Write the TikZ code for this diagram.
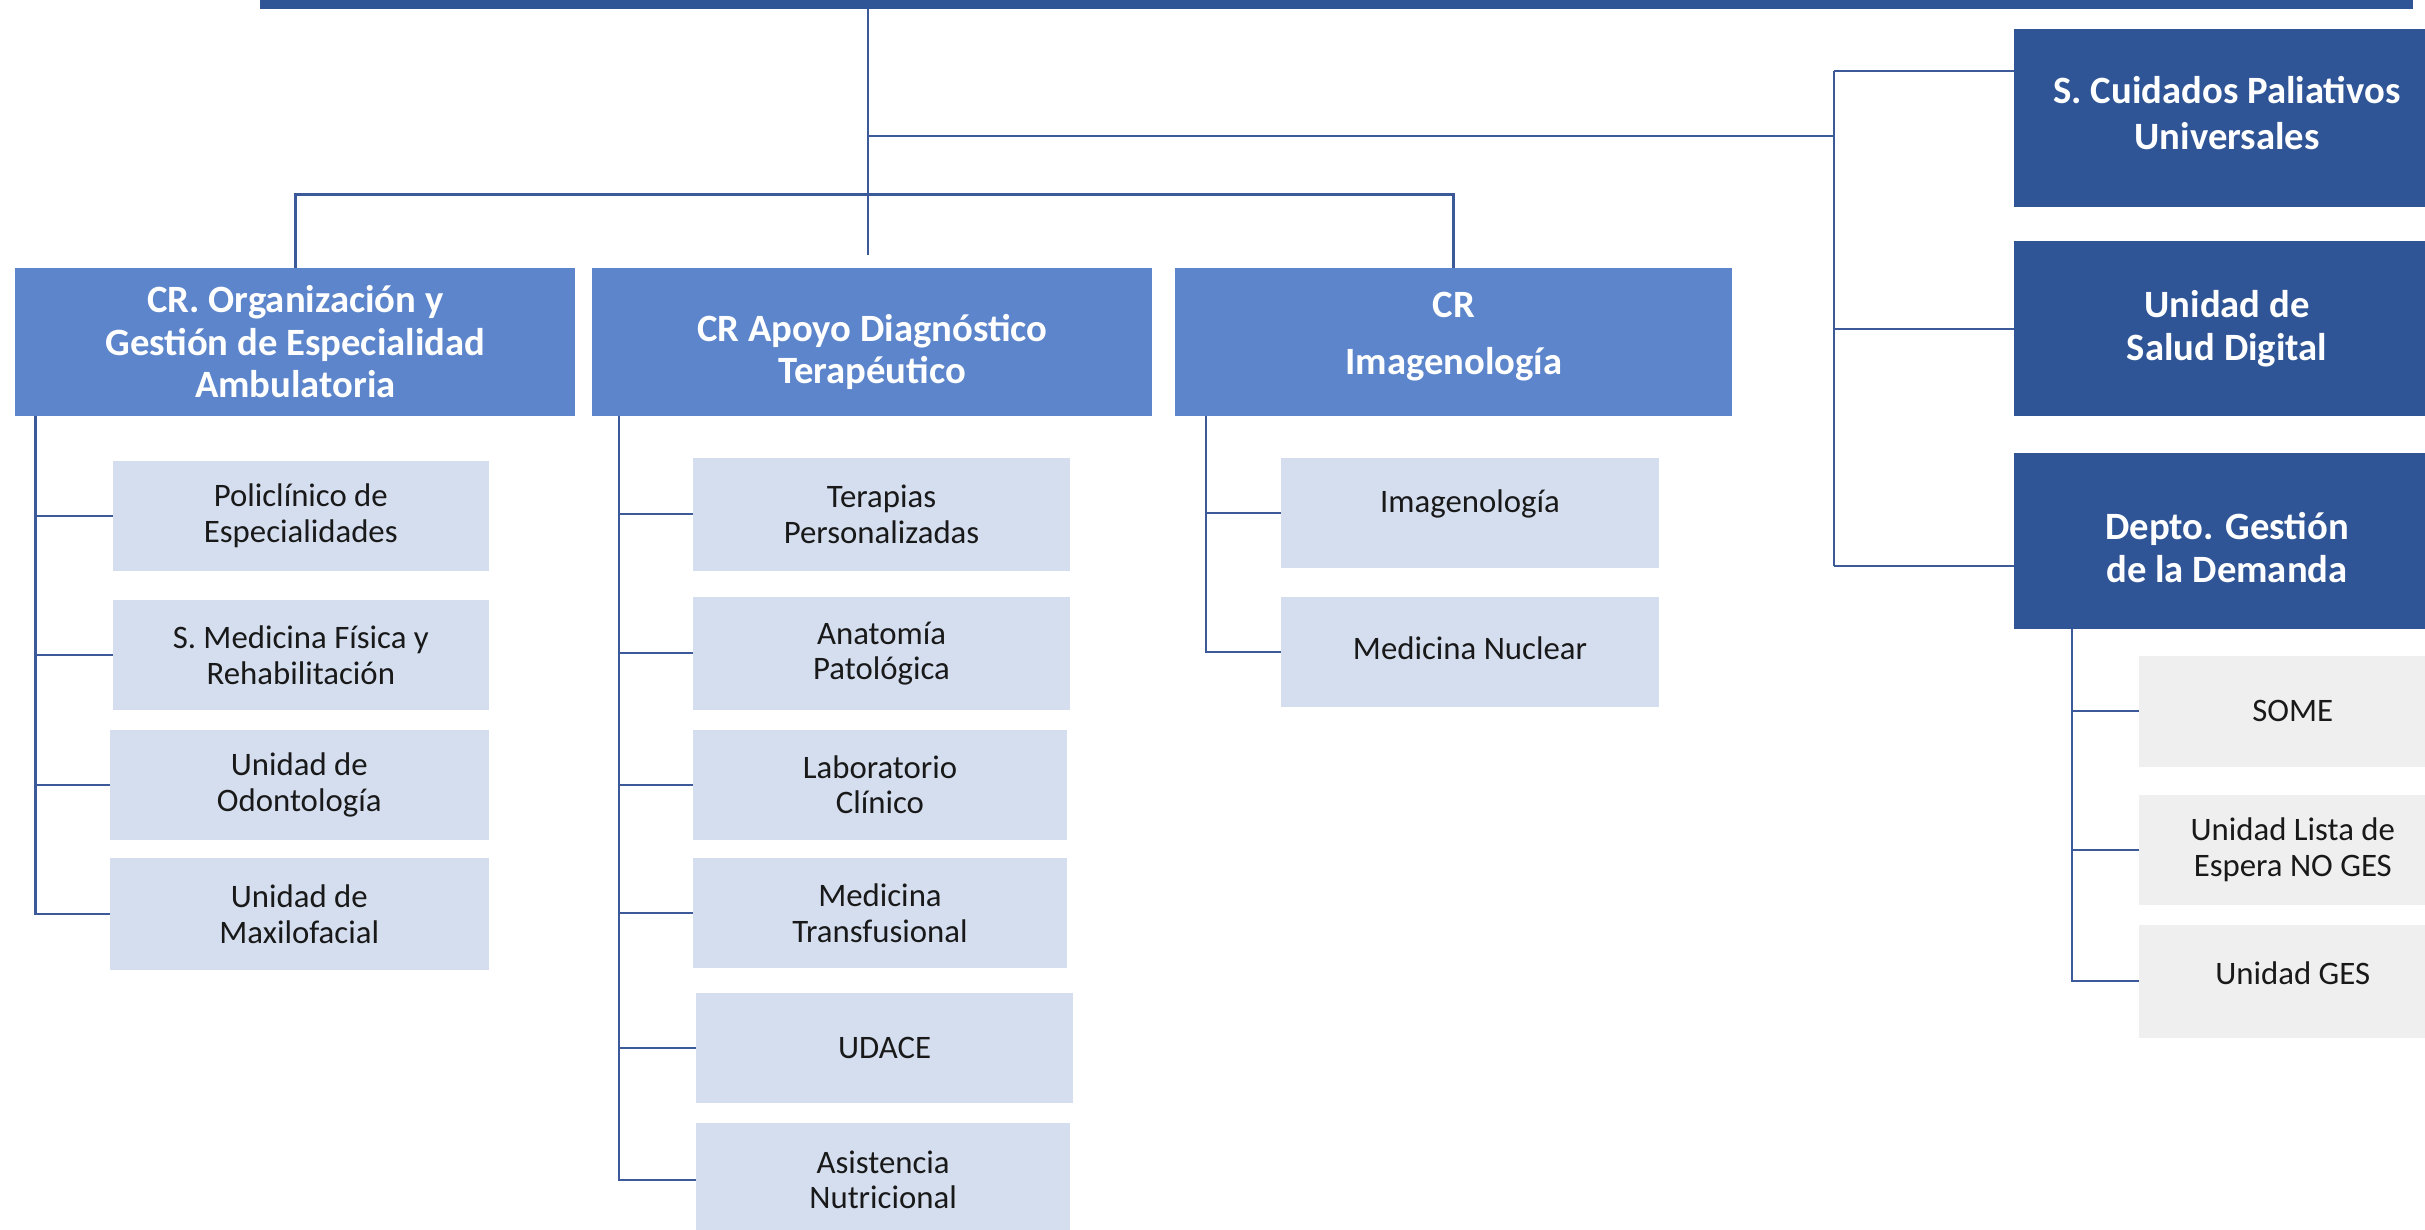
\documentclass[tikz,border=0pt]{standalone}
\usepackage{fontspec}
\setmainfont{Carlito}
\definecolor{dkblue}{HTML}{2F5597}
\definecolor{midblue}{HTML}{5C85CB}
\definecolor{ltblue}{HTML}{D4DEEF}
\definecolor{ltgrey}{HTML}{EFEFEF}
\definecolor{lineblue}{HTML}{3C5A9A}
\newcommand\orgbox[8]{%
  \node[#2, minimum width={(#5-#3)*0.5pt}, minimum height={(#6-#4)*0.5pt}] (#1) at ({(#3+#5)/2},{(#4+#6)/2}) {};
  \node[#2t] (#1t) at ([yshift=#7]#1.center) {#8};}
\tikzset{
  box/.style={inner sep=0pt, outer sep=0pt, draw=none},
  topbar/.style={box, fill=dkblue},
  topbart/.style={inner sep=0pt},
  lone/.style={box, fill=midblue},
  lonet/.style={inner sep=0pt, text=white, align=center, font=\fontsize{12.5pt}{13.75pt}\selectfont\bfseries},
  dk/.style={box, fill=dkblue},
  dkt/.style={inner sep=0pt, text=white, align=center, font=\fontsize{12.5pt}{13.75pt}\selectfont\bfseries},
  leaf/.style={box, fill=ltblue},
  leaft/.style={inner sep=0pt, text=black!90, align=center, font=\fontsize{10.6pt}{11.5pt}\selectfont},
  gr/.style={box, fill=ltgrey},
  grt/.style={inner sep=0pt, text=black!90, align=center, font=\fontsize{10.6pt}{11.5pt}\selectfont},
  conn/.style={draw=lineblue, line width=0.7pt},
}
\begin{document}
\begin{tikzpicture}[x=0.5pt,y=-0.5pt]
\useasboundingbox (0,0) rectangle (1568,795);
\fill[white] (0,0) rectangle (1568,795);
\clip (0,0) rectangle (1568,795);

% top bar
\orgbox{top}{topbar}{168}{-30}{1560}{6}{0pt}{}

% level 1
\orgbox{A}{lone}{10}{173}{372}{269}{0pt}{CR. Organización y\\Gestión de Especialidad\\Ambulatoria}
\orgbox{B}{lone}{383}{173}{745}{269}{-3.25pt}{CR Apoyo Diagnóstico\\Terapéutico}
\orgbox{C}{lone}{760}{173}{1120}{269}{1.75pt}{CR\\[4.75pt]Imagenología}

% right dark boxes
\orgbox{R1}{dk}{1302}{19}{1578}{134}{1.75pt}{S. Cuidados Paliativos\\[1.25pt]Universales}
\orgbox{R2}{dk}{1302}{156}{1578}{269}{0pt}{Unidad de\\Salud Digital}
\orgbox{R3}{dk}{1302}{293}{1578}{407}{-2pt}{Depto. Gestión\\de la Demanda}

% column A
\orgbox{A1}{leaf}{73}{298}{316}{369}{0pt}{Policlínico de\\Especialidades}
\orgbox{A2}{leaf}{73}{388}{316}{459}{0pt}{S. Medicina Física y\\Rehabilitación}
\orgbox{A3}{leaf}{71}{472}{316}{543}{0pt}{Unidad de\\Odontología}
\orgbox{A4}{leaf}{71}{555}{316}{627}{0pt}{Unidad de\\Maxilofacial}

% column B
\orgbox{B1}{leaf}{448}{296}{692}{369}{0pt}{Terapias\\Personalizadas}
\orgbox{B2}{leaf}{448}{386}{692}{459}{0pt}{Anatomía\\Patológica}
\orgbox{B3}{leaf}{448}{472}{690}{543}{0pt}{Laboratorio\\Clínico}
\orgbox{B4}{leaf}{448}{555}{690}{626}{0pt}{Medicina\\Transfusional}
\orgbox{B5}{leaf}{450}{642}{694}{713}{0pt}{UDACE}
\orgbox{B6}{leaf}{450}{726}{692}{800}{0pt}{Asistencia\\Nutricional}

% column C
\orgbox{C1}{leaf}{828}{296}{1073}{367}{2.75pt}{Imagenología}
\orgbox{C2}{leaf}{828}{386}{1073}{457}{1.25pt}{Medicina Nuclear}

% right grey column
\orgbox{G1}{gr}{1383}{424}{1582}{496}{0pt}{SOME}
\orgbox{G2}{gr}{1383}{514}{1582}{585}{0pt}{Unidad Lista de\\Espera NO GES}
\orgbox{G3}{gr}{1383}{598}{1582}{671}{2.75pt}{Unidad GES}

% junction coordinates
\coordinate (jm) at (561,88);
\coordinate (jend) at (561,165);
\coordinate (jr) at (1186,88);
\coordinate (r1) at (1186,46);
\coordinate (r3) at (1186,366);
\coordinate (hm) at (561,126);
\coordinate (ax) at (23,269);
\coordinate (bx) at (400,269);
\coordinate (cx) at (780,269);
\coordinate (gx) at (1340,407);

% main trunk
\draw[conn] (top.south -| jm) -- (jend);
\draw[conn] (jm) -- (jr);
\draw[conn] (r1) -- (r3);
\draw[conn] (r1) -- (r1 -| R1.west);
\draw[conn] (R2.west) -- (R2.west -| r1);
\draw[conn] (r3) -- (r3 -| R3.west);

% level 1 bracket
\draw[conn, line width=1pt] (A.north) |- (hm) -| (C.north);

% column A
\draw[conn] (ax) |- (A4.west);
\foreach \i in {1,2,3} \draw[conn] (A\i.west) -- (A\i.west -| ax);

% column B
\draw[conn] (bx) |- (B6.west);
\foreach \i in {1,...,5} \draw[conn] (B\i.west) -- (B\i.west -| bx);

% column C
\draw[conn] (cx) |- (C2.west);
\draw[conn] (C1.west) -- (C1.west -| cx);

% grey column
\draw[conn] (gx) |- (G3.west);
\foreach \i in {1,2} \draw[conn] (G\i.west) -- (G\i.west -| gx);
\end{tikzpicture}
\end{document}
